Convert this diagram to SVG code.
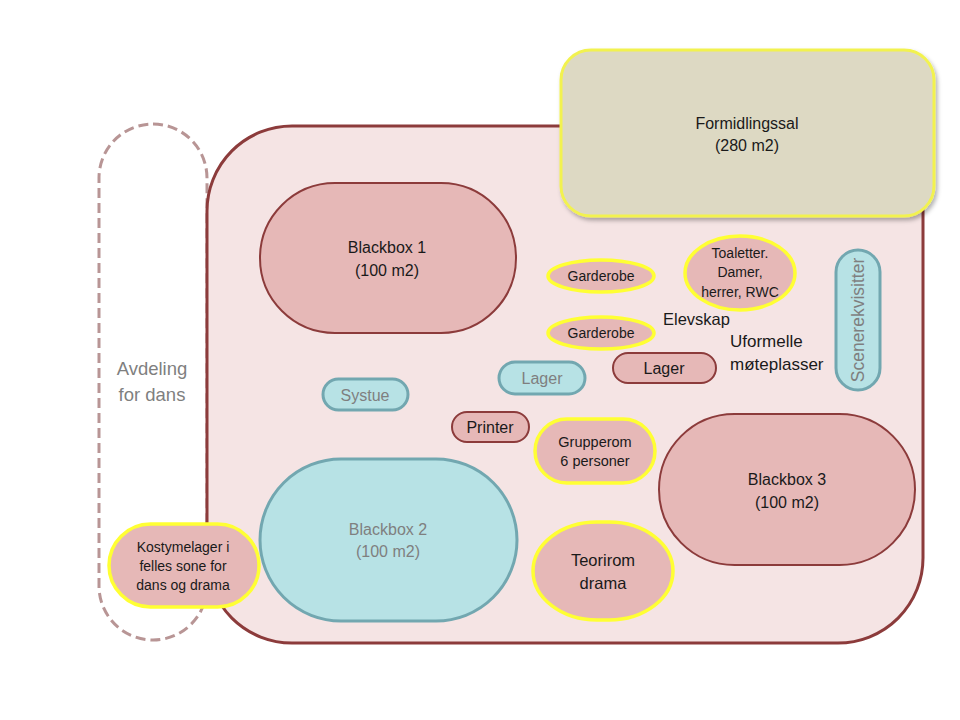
<svg xmlns="http://www.w3.org/2000/svg" width="960" height="720" viewBox="0 0 960 720">
<defs>
<style>
text{font-family:"Liberation Sans","Open Sans",sans-serif;text-anchor:middle;fill:#1a1a1a}
.g{fill:#7f7f7f}
.red{fill:#e6b8b7;stroke:#8c3b3b;stroke-width:2}
.yel{fill:#e6b8b7;stroke:#ffff33;stroke-width:3.5}
.cy{fill:#b7e2e5;stroke:#72a7b0;stroke-width:3}
</style>
<filter id="sh" x="-10%" y="-10%" width="130%" height="130%"><feDropShadow dx="2" dy="3" stdDeviation="2" flood-color="#000" flood-opacity="0.3"/></filter>
</defs>
<rect width="960" height="720" fill="#fff"/>
<g id="avdeling">
<rect x="99" y="124" width="108" height="516" rx="54" fill="none" stroke="#b89595" stroke-width="3" stroke-dasharray="10,5"/>
<text class="g" x="152" y="375" font-size="18.5">Avdeling</text>
<text class="g" x="152" y="401" font-size="18.5">for dans</text>
</g>
<g id="main">
<rect x="207" y="126" width="716" height="517" rx="85" fill="#f5e4e4" stroke="#8c3b3b" stroke-width="3"/>
</g>
<g id="kostymelager">
<rect class="yel" x="109" y="524" width="150" height="83" rx="41.5"/>
<text x="183" y="552" font-size="14">Kostymelager i</text>
<text x="183" y="571" font-size="14">felles sone for</text>
<text x="183" y="590" font-size="14">dans og drama</text>
</g>
<g id="formidlingssal">
<rect x="561" y="50" width="373" height="166" rx="30" fill="#ddd9c3" stroke="#f2f250" stroke-width="3" filter="url(#sh)"/>
<text x="747" y="129" font-size="16">Formidlingssal</text>
<text x="747" y="151" font-size="16">(280 m2)</text>
</g>
<g id="blackbox1">
<rect class="red" x="260" y="183" width="256" height="150" rx="75"/>
<text x="387" y="253" font-size="16">Blackbox 1</text>
<text x="387" y="276" font-size="16">(100 m2)</text>
</g>
<g id="blackbox2">
<rect class="cy" x="260" y="459" width="257" height="162" rx="81"/>
<text class="g" x="388" y="535" font-size="16">Blackbox 2</text>
<text class="g" x="388" y="557" font-size="16">(100 m2)</text>
</g>
<g id="blackbox3">
<rect class="red" x="659" y="414" width="256" height="151" rx="75.5"/>
<text x="787" y="485" font-size="16">Blackbox 3</text>
<text x="787" y="508" font-size="16">(100 m2)</text>
</g>
<g id="garderobe1">
<ellipse class="yel" cx="601" cy="276" rx="53" ry="16"/>
<text x="601" y="281" font-size="14">Garderobe</text>
</g>
<g id="garderobe2">
<ellipse class="yel" cx="601" cy="333" rx="53" ry="16"/>
<text x="601" y="338" font-size="14">Garderobe</text>
</g>
<g id="toaletter">
<ellipse class="yel" cx="740" cy="273" rx="55" ry="37"/>
<text x="740" y="258" font-size="14">Toaletter.</text>
<text x="740" y="277" font-size="14">Damer,</text>
<text x="740" y="297" font-size="14">herrer,  RWC</text>
</g>
<g id="elevskap">
<text x="663" y="325" font-size="16.5" style="text-anchor:start">Elevskap</text>
</g>
<g id="uformelle">
<text x="730" y="347" font-size="17" style="text-anchor:start">Uformelle</text>
<text x="730" y="370" font-size="17" style="text-anchor:start">møteplasser</text>
</g>
<g id="lager-red">
<rect class="red" x="613" y="353" width="103" height="30" rx="15"/>
<text x="664" y="374" font-size="16">Lager</text>
</g>
<g id="lager-cyan">
<rect class="cy" x="499" y="362" width="86" height="32" rx="16"/>
<text class="g" x="542" y="384" font-size="16">Lager</text>
</g>
<g id="systue">
<rect class="cy" x="323" y="379" width="85" height="31" rx="15.5"/>
<text class="g" x="365" y="401" font-size="16">Systue</text>
</g>
<g id="printer">
<rect class="red" x="452" y="412" width="77" height="30" rx="15"/>
<text x="490" y="433" font-size="16">Printer</text>
</g>
<g id="grupperom">
<rect class="yel" x="535" y="419" width="120" height="64" rx="32"/>
<text x="595" y="447" font-size="14.5">Grupperom</text>
<text x="595" y="466" font-size="14.5">6 personer</text>
</g>
<g id="teorirom">
<rect class="yel" x="533" y="522" width="140" height="98" rx="64" ry="49"/>
<text x="603" y="566" font-size="16.5">Teorirom</text>
<text x="603" y="589" font-size="16.5">drama</text>
</g>
<g id="scenerekvisitter">
<rect class="cy" x="836" y="250" width="44" height="140" rx="22"/>
<text class="g" x="0" y="0" font-size="17.5" transform="translate(864,320) rotate(-90)">Scenerekvisitter</text>
</g>
<g id="connectors"></g>
</svg>
